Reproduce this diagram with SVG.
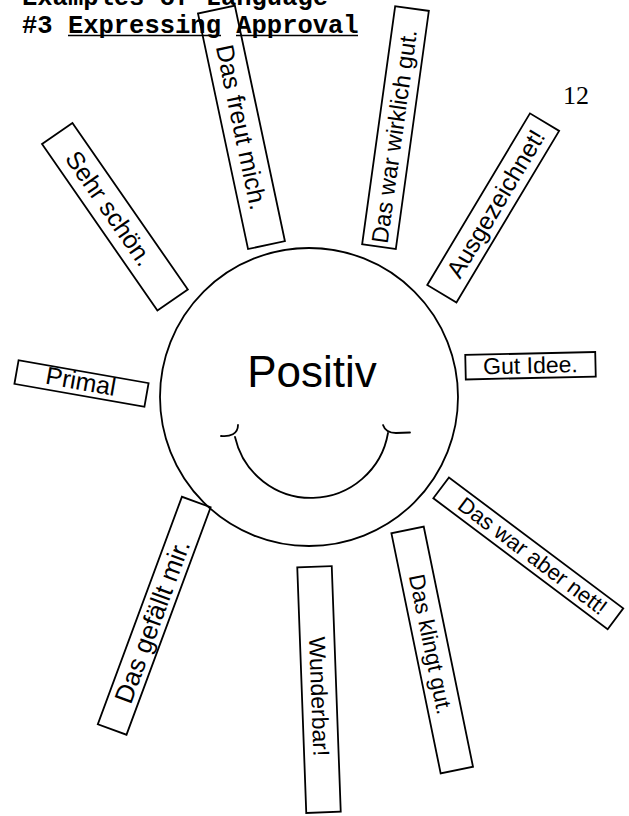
<svg xmlns="http://www.w3.org/2000/svg" width="629" height="816" viewBox="0 0 629 816">
<style>
.box{fill:none;stroke:#000;stroke-width:1.8}
.lbl{font-family:"Liberation Sans",Arial,sans-serif;fill:#000;text-anchor:middle}
.title{font-family:"Liberation Mono","Courier New",monospace;font-weight:bold;font-size:25.5px;fill:#000}
.line{fill:none;stroke:#000;stroke-width:1.8;stroke-linecap:round}
</style>
<rect width="629" height="816" fill="#fff"/>
<g id="title">
<text class="title" x="22" y="5">Examples of Language</text>
<text class="title" x="22" y="33">#3 Expressing Approval</text>
<line x1="68" y1="35.5" x2="221" y2="35.5" stroke="#000" stroke-width="1.6"/>
<line x1="236" y1="35.5" x2="358" y2="35.5" stroke="#000" stroke-width="1.6"/>
</g>
<g id="page-number">
<text x="563" y="104" font-family="Liberation Serif,'Times New Roman',serif" font-size="26" fill="#000">12</text>
</g>
<g id="center">
<circle cx="309" cy="397" r="149" class="line"/>
<text class="lbl" x="312" y="387" font-size="44">Positiv</text>
<path class="line" d="M235,437 A78,78 0 0 0 388,433"/>
<path class="line" d="M221,436 C230,437 238,434 238,425"/>
<path class="line" d="M383,425 C385,431 390,433 396,433 L410,432.5"/>
</g>
<g id="n-sehr">
<g transform="translate(114.9,216.7) rotate(55.3)">
<rect class="box" x="-101.3" y="-18.5" width="202.7" height="37"/>
<text class="lbl" x="-10" y="8.5" font-size="25">Sehr schön.</text>
</g>
</g>
<g id="n-freut">
<g transform="translate(241.5,127.3) rotate(78)">
<rect class="box" x="-120.4" y="-18.8" width="240.8" height="37.7"/>
<text class="lbl" x="0" y="8.5" font-size="25">Das freut mich.</text>
</g>
</g>
<g id="n-wirklich">
<g transform="translate(395.5,127.5) rotate(-82.1)">
<rect class="box" x="-120.2" y="-17" width="240.3" height="34"/>
<text class="lbl" x="-9" y="8" font-size="23.5">Das war wirklich gut.</text>
</g>
</g>
<g id="n-ausgezeichnet">
<g transform="translate(493.2,207.9) rotate(-59.1)">
<rect class="box" x="-100" y="-17" width="200" height="34"/>
<text class="lbl" x="5" y="8.5" font-size="24.5">Ausgezeichnet!</text>
</g>
</g>
<g id="n-gutidee">
<g transform="translate(530.5,365.75) rotate(-1.3)">
<rect class="box" x="-65" y="-12.25" width="130" height="24.5"/>
<text class="lbl" x="0" y="7.5" font-size="23">Gut Idee.</text>
</g>
</g>
<g id="n-primal">
<g transform="translate(81.5,383.5) rotate(10)">
<rect class="box" x="-66" y="-12" width="132" height="24"/>
<text class="lbl" x="-1" y="6.5" font-size="25">Primal</text>
</g>
</g>
<g id="n-nett">
<g transform="translate(528.3,553.3) rotate(36.9)">
<rect class="box" x="-109" y="-13" width="218" height="26"/>
<text class="lbl" x="5" y="7" font-size="22">Das war aber nett!</text>
</g>
</g>
<g id="n-klingt">
<g transform="translate(432.2,650) rotate(78.4)">
<rect class="box" x="-122.5" y="-16.5" width="245" height="33"/>
<text class="lbl" x="-6" y="8" font-size="22.5">Das klingt gut.</text>
</g>
</g>
<g id="n-wunderbar">
<g transform="translate(319,689.5) rotate(87.9)">
<rect class="box" x="-122.8" y="-17.25" width="245.7" height="34.5"/>
<text class="lbl" x="7" y="8" font-size="23">Wunderbar!</text>
</g>
</g>
<g id="n-gefaellt">
<g transform="translate(154.2,615.8) rotate(-69.7)">
<rect class="box" x="-121.2" y="-15.3" width="242.5" height="30.6"/>
<text class="lbl" x="-6" y="9" font-size="26">Das gefällt mir.</text>
</g>
</g>
<g id="connectors"></g>
</svg>
